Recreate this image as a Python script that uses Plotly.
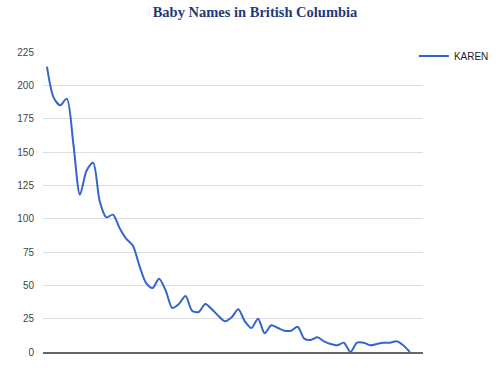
import plotly.graph_objects as go

years = list(range(1960, 2016))
karen = [214, 191, 185, 190, 156, 118, 136, 142, 113, 101, 103, 93, 85, 80, 65,
         52, 48, 55, 46, 33, 36, 42, 31, 30, 36, 32, 27, 23, 26, 32, 23, 18, 25,
         14, 20, 18, 16, 16, 19, 10, 9, 11, 8, 6, 5, 7, 0, 7, 7, 5, 6, 7, 7, 8, 5, 0]
y_ticks = [0, 25, 50, 75, 100, 125, 150, 175, 200, 225]

fig = go.Figure()
fig.add_trace(go.Scatter(
    x=years, y=karen, mode="lines", name="KAREN",
    line=dict(color="#3366cc", width=2, shape="spline", smoothing=0.8),
))

fig.update_layout(
    width=500, height=370,
    margin=dict(l=43, r=77, t=52, b=18, autoexpand=False),
    paper_bgcolor="white", plot_bgcolor="white",
    title=dict(text="<b>Baby Names in British Columbia</b>",
               x=0.51, xanchor="center", y=0.967, yanchor="middle",
               font=dict(family="Liberation Serif, Times New Roman, serif", size=14.5, color="#1f3a7a")),
    xaxis=dict(range=[1959.4, 2017], showgrid=False, showticklabels=False, zeroline=False,
               showline=True, linecolor="#666666", linewidth=1.5, ticks=""),
    yaxis=dict(range=[0, 225], tickvals=y_ticks, showgrid=True, gridcolor="#dddddd", gridwidth=1,
               zeroline=False, ticklabelstandoff=8,
               tickfont=dict(family="Liberation Sans, Arial, sans-serif", size=10, color="#444444")),
    legend=dict(x=0.976, y=0.987, xanchor="left", yanchor="middle", itemwidth=30,
                font=dict(family="Liberation Sans, Arial, sans-serif", size=10, color="#222222"),
                bgcolor="rgba(0,0,0,0)", tracegroupgap=0),
    showlegend=True,
)

fig.write_html("out.html")
